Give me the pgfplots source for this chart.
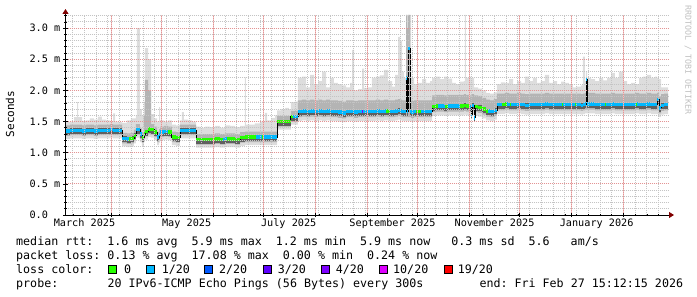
\documentclass[border=0pt]{standalone}
\usepackage{fontspec}
\usepackage{pgfplots}
\usepackage{pgfplotstable}
\pgfplotsset{compat=1.18}
\usepgfplotslibrary{fillbetween}
\usetikzlibrary{arrows.meta}
\newfontfamily\rrd{DejaVu Sans Mono}
\definecolor{lossA}{HTML}{26FF00}
\definecolor{lossB}{HTML}{00B8FF}
\definecolor{lossC}{HTML}{0059FF}
\definecolor{lossD}{HTML}{5E00FF}
\definecolor{lossE}{HTML}{7E00FF}
\definecolor{lossF}{HTML}{DD00FF}
\definecolor{lossG}{HTML}{FF0000}
\definecolor{smokeA}{HTML}{DDDDDD}
\definecolor{smokeB}{HTML}{B4B4B4}
\definecolor{smokeC}{HTML}{606060}
\definecolor{mgrid}{HTML}{E39494}
\definecolor{mgridv}{HTML}{F0C4C4}
\definecolor{sgrid}{HTML}{C4C4C4}
\definecolor{arrowc}{HTML}{800000}
\definecolor{wmark}{HTML}{C0C0C0}

\pgfplotstableread{
d     bot  lo   med  hi   top
0.0   1.22 1.27 1.35 1.44 1.49
2.7   1.23 1.28 1.36 1.45 1.50
5.1   1.23 1.28 1.36 1.45 1.57
6.9   1.23 1.28 1.36 1.45 1.81
7.5   1.23 1.28 1.36 1.45 1.57
9.9   1.22 1.27 1.35 1.44 1.51
12.2  1.23 1.28 1.36 1.45 1.52
14.6  1.23 1.28 1.36 1.45 1.55
17.0  1.22 1.27 1.35 1.44 1.53
19.4  1.23 1.28 1.36 1.45 1.58
21.8  1.23 1.28 1.36 1.45 1.53
24.2  1.23 1.28 1.36 1.45 1.52
26.6  1.24 1.29 1.37 1.46 1.50
28.4  1.23 1.28 1.36 1.45 1.63
29.6  1.23 1.28 1.36 1.45 1.50
31.4  1.23 1.28 1.36 1.45 1.49
33.8  1.10 1.15 1.23 1.32 1.48
36.7  1.09 1.14 1.22 1.31 1.52
39.1  1.10 1.15 1.23 1.32 1.55
40.9  1.15 1.20 1.28 1.37 1.55
42.1  1.24 1.29 1.37 1.46 1.60
42.7  1.24 1.29 1.37 1.46 3.00
44.5  1.17 1.22 1.30 1.39 1.70
45.7  1.11 1.16 1.24 1.33 1.60
46.9  1.17 1.22 1.30 1.60 1.80
47.5  1.21 1.26 1.34 2.17 2.68
49.3  1.25 1.30 1.38 2.00 2.50
51.1  1.24 1.29 1.37 1.46 1.62
52.9  1.20 1.25 1.33 1.42 1.55
54.7  1.12 1.17 1.25 1.34 1.50
55.9  1.16 1.21 1.29 1.38 1.73
56.5  1.20 1.25 1.33 1.42 1.52
58.9  1.21 1.26 1.34 1.43 1.50
61.3  1.20 1.25 1.33 1.42 1.52
63.6  1.12 1.17 1.25 1.34 1.45
66.0  1.11 1.16 1.24 1.33 1.44
68.4  1.23 1.28 1.36 1.45 1.52
69.6  1.23 1.28 1.36 1.45 1.65
70.8  1.23 1.28 1.36 1.45 1.53
73.2  1.23 1.28 1.36 1.45 1.52
75.6  1.23 1.28 1.36 1.45 1.50
78.0  1.08 1.13 1.21 1.30 1.42
80.4  1.08 1.13 1.21 1.30 1.40
83.4  1.08 1.13 1.21 1.30 1.42
86.3  1.08 1.13 1.21 1.30 1.41
89.3  1.09 1.14 1.22 1.31 1.43
92.3  1.08 1.13 1.21 1.30 1.40
95.3  1.09 1.14 1.22 1.31 1.44
98.3  1.09 1.14 1.22 1.31 1.43
101.3 1.08 1.13 1.21 1.30 1.41
104.3 1.11 1.16 1.24 1.33 1.43
107.2 1.12 1.17 1.25 1.34 2.21
107.8 1.12 1.17 1.25 1.34 1.45
110.2 1.12 1.17 1.25 1.34 1.45
113.2 1.12 1.17 1.25 1.34 1.47
116.2 1.12 1.17 1.25 1.34 1.50
119.2 1.12 1.17 1.25 1.34 1.64
120.4 1.12 1.17 1.25 1.34 1.52
122.8 1.12 1.17 1.25 1.34 1.56
125.2 1.12 1.17 1.25 1.34 1.60
126.4 1.37 1.42 1.50 1.59 1.68
128.8 1.37 1.42 1.50 1.59 1.70
131.2 1.37 1.42 1.50 1.59 1.72
133.5 1.37 1.42 1.50 1.59 1.70
134.7 1.45 1.50 1.58 1.67 1.81
137.1 1.45 1.50 1.58 1.67 1.82
138.9 1.51 1.57 1.66 1.84 2.20
141.3 1.52 1.58 1.67 1.85 2.22
143.7 1.51 1.57 1.66 1.84 2.05
146.1 1.52 1.58 1.67 1.85 2.25
148.5 1.51 1.57 1.66 1.84 2.10
150.9 1.52 1.58 1.67 1.85 2.15
153.3 1.51 1.57 1.66 1.84 2.30
155.7 1.52 1.58 1.67 1.85 2.05
158.0 1.51 1.57 1.66 1.84 2.20
160.4 1.51 1.57 1.66 1.84 2.12
162.8 1.50 1.56 1.65 1.83 2.10
165.2 1.49 1.55 1.64 1.82 2.08
167.6 1.51 1.57 1.66 1.84 2.05
170.0 1.51 1.57 1.66 1.84 2.12
171.2 1.51 1.57 1.66 1.84 2.65
172.4 1.50 1.56 1.65 1.83 2.00
174.8 1.51 1.57 1.66 1.84 2.02
177.2 1.51 1.57 1.66 1.84 2.35
178.4 1.51 1.57 1.66 1.84 2.04
180.7 1.51 1.57 1.66 1.84 2.05
183.1 1.51 1.57 1.66 1.84 2.20
185.5 1.52 1.58 1.67 1.85 2.22
187.9 1.51 1.57 1.66 1.84 2.24
190.3 1.52 1.58 1.67 1.85 2.33
192.7 1.51 1.57 1.66 1.84 2.15
195.1 1.51 1.57 1.66 1.84 2.06
196.9 1.52 1.58 1.67 1.85 2.25
198.7 1.53 1.59 1.68 1.86 2.86
199.9 1.52 1.58 1.67 1.85 2.80
201.1 1.51 1.57 1.66 1.84 2.30
202.3 1.51 1.57 1.66 1.84 2.20
203.5 1.51 1.57 2.20 3.21 3.21
204.1 1.51 1.57 1.66 3.00 3.21
204.7 1.51 1.57 2.67 3.21 3.21
205.9 1.51 1.57 1.66 2.60 3.21
206.5 1.50 1.56 1.65 1.83 2.20
208.3 1.51 1.57 1.66 1.84 2.10
210.7 1.51 1.57 1.66 1.84 2.12
213.1 1.51 1.57 1.66 1.84 2.18
215.4 1.51 1.57 1.66 1.84 2.12
217.8 1.51 1.57 1.66 1.84 2.15
219.0 1.59 1.65 1.74 1.92 2.20
221.4 1.60 1.66 1.75 1.93 2.22
223.8 1.60 1.66 1.75 1.93 2.18
226.2 1.59 1.65 1.74 1.92 2.22
228.6 1.60 1.66 1.75 1.93 2.19
231.0 1.60 1.66 1.75 1.93 2.12
233.3 1.60 1.66 1.75 1.93 2.10
235.7 1.60 1.66 1.75 1.93 2.14
238.1 1.61 1.67 1.76 1.94 2.15
238.7 1.61 1.67 1.76 1.94 3.21
239.3 1.60 1.66 1.75 1.93 2.20
241.1 1.59 1.65 1.74 1.92 2.22
242.3 1.55 1.60 1.60 1.92 2.20
242.9 1.61 1.67 1.76 1.94 2.20
244.1 1.50 1.56 1.56 1.92 2.05
244.7 1.59 1.65 1.74 1.92 2.05
246.5 1.58 1.64 1.73 1.91 2.03
248.9 1.55 1.61 1.70 1.88 2.00
251.3 1.52 1.58 1.67 1.85 1.96
253.6 1.51 1.57 1.66 1.84 1.95
256.0 1.53 1.59 1.68 1.86 1.97
257.8 1.62 1.68 1.77 1.95 2.10
260.2 1.62 1.68 1.77 1.95 2.13
262.6 1.63 1.69 1.78 1.96 2.12
265.0 1.62 1.68 1.77 1.95 2.18
267.4 1.62 1.68 1.77 1.95 2.10
269.8 1.63 1.69 1.78 1.96 2.15
272.2 1.62 1.68 1.77 1.95 2.12
274.5 1.61 1.67 1.76 1.94 2.22
276.9 1.62 1.68 1.77 1.95 2.15
279.3 1.62 1.68 1.77 1.95 2.20
281.7 1.62 1.68 1.77 1.95 2.12
284.1 1.62 1.68 1.77 1.95 2.15
286.5 1.63 1.69 1.78 1.96 2.25
288.9 1.62 1.68 1.77 1.95 2.12
291.3 1.62 1.68 1.77 1.95 2.15
293.7 1.62 1.68 1.77 1.95 2.10
296.1 1.62 1.68 1.77 1.95 2.14
298.5 1.62 1.68 1.77 1.95 2.12
300.8 1.62 1.68 1.77 1.95 2.10
303.2 1.62 1.68 1.77 1.95 2.05
305.6 1.62 1.68 1.77 1.95 2.06
308.0 1.61 1.67 1.76 1.94 2.08
309.2 1.62 1.68 1.77 1.95 2.54
310.4 1.63 1.69 1.78 1.96 2.15
311.0 1.63 1.69 2.17 1.96 2.30
311.6 1.63 1.69 1.78 1.96 2.20
314.0 1.63 1.69 1.78 1.96 2.18
316.4 1.62 1.68 1.77 1.95 2.15
318.8 1.62 1.68 1.77 1.95 2.20
321.2 1.62 1.68 1.77 1.95 2.16
323.6 1.62 1.68 1.77 1.95 2.20
326.0 1.63 1.69 1.78 1.96 2.28
328.3 1.62 1.68 1.77 1.95 2.20
330.7 1.62 1.68 1.77 1.95 2.30
333.1 1.62 1.68 1.77 1.95 2.15
335.5 1.62 1.68 1.77 1.95 2.10
337.9 1.62 1.68 1.77 1.95 2.12
340.3 1.63 1.69 1.78 1.96 2.10
342.7 1.62 1.68 1.77 1.95 2.20
345.1 1.62 1.68 1.77 1.95 2.22
347.5 1.63 1.69 1.78 1.96 2.25
349.9 1.62 1.68 1.77 1.95 2.20
352.3 1.62 1.68 1.77 1.95 2.22
353.5 1.62 1.68 1.85 1.96 2.20
354.7 1.57 1.63 1.72 1.90 2.18
355.9 1.61 1.67 1.76 1.94 2.05
357.7 1.62 1.68 1.77 1.95 2.05
360.0 1.62 1.68 1.77 1.95 2.05
}\smoke

\begin{document}
\begin{tikzpicture}
\begin{axis}[
  at={(0,0)}, anchor=south west,
  scale only axis, width=602.5bp, height=200bp,
  xmin=0, xmax=360, ymin=0, ymax=3.21,
  clip mode=individual,
  axis on top,
  axis lines=left,
  axis line style={black, line width=0.8bp},
  x axis line style={-{Triangle[length=5bp,width=6bp,color=arrowc]}, shorten >=-6bp},
  y axis line style={-{Triangle[length=5bp,width=6bp,color=arrowc]}, shorten >=-6bp},
  xtick={27.37,57.37,88.37,118.37,149.37,180.37,210.37,241.37,271.37,302.37,333.37},
  xticklabels={},
  minor xtick={4.37,11.37,...,358},
  ytick={0,0.5,1,1.5,2,2.5,3},
  yticklabels={0.0\hphantom{~m},0.5~m,1.0~m,1.5~m,2.0~m,2.5~m,3.0~m},
  minor ytick={0.1,0.2,0.3,0.4,0.6,0.7,0.8,0.9,1.1,1.2,1.3,1.4,1.6,1.7,1.8,1.9,2.1,2.2,2.3,2.4,2.6,2.7,2.8,2.9,3.1,3.2},
  grid=both,
  major grid style={mgrid, line width=1bp, dash pattern=on 1bp off 1bp},
  minor grid style={sgrid, line width=1bp, dash pattern=on 1bp off 1bp},
  tick align=center,
  major tick length=4bp, minor tick length=2bp,
  tick style={black, line width=0.6bp},
  yticklabel style={font=\rrd\fontsize{10.2bp}{12bp}\selectfont, anchor=east, inner sep=0pt, xshift=-3bp},
]
\addplot[const plot, draw=none, name path=T] table[x=d,y=top]{\smoke};
\addplot[const plot, draw=none, name path=B] table[x=d,y=bot]{\smoke};
\addplot[smokeA, draw=none] fill between[of=T and B];
\addplot[const plot, draw=none, name path=H] table[x=d,y=hi]{\smoke};
\addplot[const plot, draw=none, name path=L] table[x=d,y=lo]{\smoke};
\addplot[smokeB, draw=none] fill between[of=H and L];
\addplot[jump mark left, smokeC, line width=6bp, yshift=-1bp] table[x=d,y=med]{\smoke};
\addplot[const plot, black, line width=0.9bp] table[x=d,y=med]{\smoke};
\addplot[jump mark left, lossB, line width=3.4bp] table[x=d,y=med]{\smoke};
% loss 0 (green) stretches
\addplot[jump mark left, lossA, line width=3.4bp] coordinates {(38.0,1.22)(39.1,1.23)(40.9,1.28)(42.1,1.28)};
\addplot[jump mark left, lossA, line width=3.4bp] coordinates {(45.7,1.24)(46.9,1.30)(47.5,1.34)(49.3,1.38)(51.1,1.37)(52.9,1.33)(54.7,1.33)};
\addplot[jump mark left, lossA, line width=3.4bp] coordinates {(61.3,1.33)(63.6,1.25)(66.0,1.24)(68.4,1.24)};
\addplot[jump mark left, lossA, line width=3.4bp] coordinates {(78.0,1.21)(89.3,1.22)(92.3,1.21)(94.0,1.21)};
\addplot[jump mark left, lossA, line width=3.4bp] coordinates {(96.5,1.22)(101.3,1.21)(104.3,1.24)(107.2,1.25)(114.0,1.25)};
\addplot[jump mark left, lossA, line width=3.4bp] coordinates {(117.2,1.25)(118.4,1.25)};
\addplot[jump mark left, lossA, line width=3.4bp] coordinates {(126.4,1.50)(134.7,1.58)(136.0,1.58)};
\addplot[jump mark left, lossA, line width=3.4bp] coordinates {(191.5,1.67)(192.7,1.66)(193.9,1.66)};
\addplot[jump mark left, lossA, line width=3.4bp] coordinates {(209.4,1.66)(212.4,1.66)};
\addplot[jump mark left, lossA, line width=3.4bp] coordinates {(219.0,1.74)(221.4,1.75)(222.6,1.75)};
\addplot[jump mark left, lossA, line width=3.4bp] coordinates {(226.8,1.74)(228.6,1.74)};
\addplot[jump mark left, lossA, line width=3.4bp] coordinates {(235.7,1.75)(238.1,1.76)(239.3,1.75)(241.1,1.74)(241.7,1.74)};
\addplot[jump mark left, lossA, line width=3.4bp] coordinates {(244.7,1.74)(246.5,1.73)(248.9,1.70)(251.3,1.67)(252.5,1.67)};
\addplot[jump mark left, lossA, line width=3.4bp] coordinates {(260.8,1.77)(262.6,1.78)(263.8,1.78)};
\addplot[jump mark left, lossA, line width=3.4bp] coordinates {(265.5,1.77)(266.4,1.77)};
\addplot[jump mark left, lossA, line width=3.4bp] coordinates {(296.5,1.77)(297.3,1.77)};
\addplot[jump mark left, lossA, line width=3.4bp] coordinates {(304.3,1.77)(305.3,1.77)};
\addplot[jump mark left, lossA, line width=3.4bp] coordinates {(322.2,1.77)(323.2,1.77)};
\addplot[jump mark left, lossA, line width=3.4bp] coordinates {(340.8,1.78)(341.6,1.78)};
\addplot[jump mark left, lossE, line width=3.4bp] coordinates {(177.2,1.66)(177.9,1.66)};
% month labels, centred on the month as rrdtool does
\begin{scope}[every node/.style={font=\rrd\fontsize{10.2bp}{12bp}\selectfont, inner sep=0pt, anchor=base}]
\node at (axis cs:11.37,0) [yshift=-11bp] {March 2025};
\node at (axis cs:72.37,0) [yshift=-11bp] {May 2025};
\node at (axis cs:133.37,0) [yshift=-11bp] {July 2025};
\node at (axis cs:195.37,0) [yshift=-11bp] {September 2025};
\node at (axis cs:256.37,0) [yshift=-11bp] {November 2025};
\node at (axis cs:317.37,0) [yshift=-11bp] {January 2026};
\end{scope}
\end{axis}
% monthly (major) vertical grid lines, snapped to pixel centres
\foreach \gx in {46,96,148,198,250,302,352,404,454,506,558}{
  \draw[mgridv, line width=1bp] (\gx bp,0.5bp) -- (\gx bp,200bp);
}
% y axis title and watermark
\node[rotate=90, font=\rrd\fontsize{11bp}{13bp}\selectfont, inner sep=0pt] at (-55.5bp,101bp) {Seconds};
\node[rotate=-90, font=\rrd\fontsize{8.3bp}{10bp}\selectfont, text=wmark, inner sep=0pt] at (622.5bp,155bp) {RRDTOOL / TOBI OETIKER};
% legend
\begin{scope}[every node/.style={font=\rrd\fontsize{11.66bp}{14bp}\selectfont, inner sep=0pt, anchor=base west}]
\node at (-49.5bp,-30.7bp) {median~rtt:~~1.6~ms~avg~~5.9~ms~max~~1.2~ms~min~~5.9~ms~now~~~0.3~ms~sd~~5.6~~~am/s};
\node at (-49.5bp,-44bp) {packet~loss:~0.13~\%~avg~~17.08~\%~max~~0.00~\%~min~~0.24~\%~now};
\node at (-49.5bp,-58.3bp) {loss~color:};
\node at (-49.5bp,-72.3bp) {probe:};
\node at (41.8bp,-72.3bp) {20~IPv6-ICMP~Echo~Pings~(56~Bytes)~every~300s};
\node at (413.8bp,-72.3bp) {end:~Fri~Feb~27~15:12:15~2026};
\foreach \bx/\tx/\col/\lab in {43/58.5/lossA/0, 80.5/96.1/lossB/1\slash 20, 139/153.3/lossC/2\slash 20, 197.5/212.2/lossD/3\slash 20, 255.5/270.2/lossE/4\slash 20, 314/327.5/lossF/10\slash 20, 378.5/392.1/lossG/19\slash 20}{
  \filldraw[fill=\col, draw=black, line width=0.8bp] (\bx bp,-58.3bp) rectangle ++(8bp,8bp);
  \node at (\tx bp,-58.3bp) {\lab};
}
\end{scope}
\pgfresetboundingbox
\path (-65.5bp,-82bp) rectangle (631.5bp,215bp);
\end{tikzpicture}
\end{document}
